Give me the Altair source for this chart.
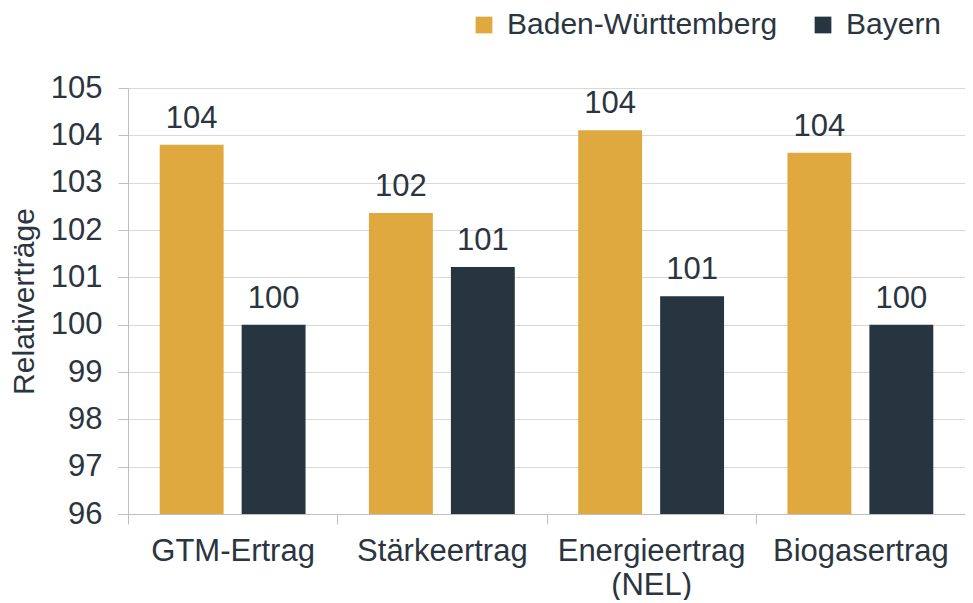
import altair as alt
import pandas as pd

categories = ["GTM-Ertrag", "Stärkeertrag", "Energieertrag (NEL)", "Biogasertrag"]
series = ["Baden-Württemberg", "Bayern"]
bw_values = [103.8, 102.36, 104.11, 103.63]
by_values = [100.0, 101.22, 100.6, 100.0]
colors = ["#DFA93F", "#273540"]

rows = []
for c, a, b in zip(categories, bw_values, by_values):
    rows.append({"Kategorie": c, "Land": series[0], "Wert": a})
    rows.append({"Kategorie": c, "Land": series[1], "Wert": b})
df = pd.DataFrame(rows)

FONT = "Liberation Sans"
TXT = "#2B3540"
FS = 31

x = alt.X("Kategorie:N", sort=categories, title=None,
          scale=alt.Scale(paddingInner=0, paddingOuter=0),
          axis=alt.Axis(tickBand="extent", labelAngle=0, labelFontSize=FS, labelFont=FONT,
                        labelColor=TXT, labelPadding=12, tickSize=10, tickColor="#BFBFBF",
                        domainColor="#BFBFBF", labelLineHeight=34, labelLimit=0,
                        labelExpr="datum.value == 'Energieertrag (NEL)' ? ['Energieertrag', '(NEL)'] : datum.value"))
xo = alt.XOffset("Land:N", sort=series, scale=alt.Scale(paddingInner=0.22, paddingOuter=0.387))
y = alt.Y("Wert:Q", title="Relativerträge",
          scale=alt.Scale(domain=[96, 105], nice=False, zero=False),
          axis=alt.Axis(values=list(range(96, 106)), labelFontSize=FS, labelFont=FONT,
                        labelColor=TXT, titleFont=FONT, titleFontSize=30, titleColor=TXT,
                        titleFontWeight="normal", titlePadding=11, tickSize=10,
                        tickColor="#BFBFBF", domainColor="#BFBFBF", labelPadding=16,
                        gridColor="#D9D9D9", format="d"))

base = alt.Chart(df)
bars = base.mark_bar().encode(
    x=x, xOffset=xo, y=y, y2=alt.datum(96),
    color=alt.Color("Land:N", sort=series, scale=alt.Scale(domain=series, range=colors),
                    legend=alt.Legend(title=None, orient="none", legendX=341, legendY=-78,
                                      direction="horizontal", symbolType="square",
                                      symbolSize=280, symbolStrokeWidth=0, labelFontSize=30,
                                      labelFont=FONT, labelColor=TXT, columnPadding=30,
                                      labelOffset=8, labelLimit=0)),
)
labels = base.mark_text(baseline="bottom", dy=-10, fontSize=FS, font=FONT, color=TXT).encode(
    x=x, xOffset=xo, y=y, text=alt.Text("Wert:Q", format=".0f"),
)

chart = (bars + labels).properties(
    width=837, height=426,
    autosize=alt.AutoSizeParams(type="none"),
    padding={"left": 120, "top": 80, "right": 0, "bottom": 86},
).configure_view(stroke=None).configure_axisX(grid=False)

chart.save("out.html", embed_options={"renderer": "svg", "actions": False})
